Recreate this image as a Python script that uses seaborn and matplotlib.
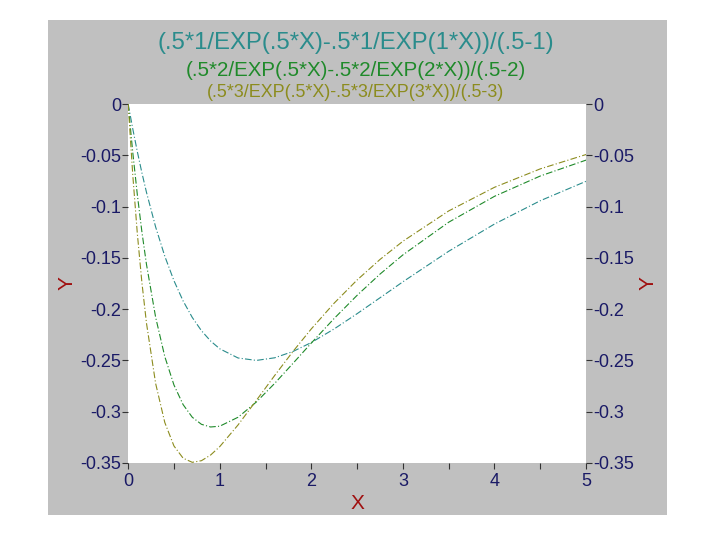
import pandas as pd
import seaborn as sns
import matplotlib.pyplot as plt
from matplotlib.patches import Rectangle
from matplotlib.ticker import MultipleLocator

# sampled curve values
x_vals = [0, 0.05, 0.1, 0.15, 0.2, 0.3, 0.4, 0.5, 0.6, 0.7, 0.8, 0.9, 1.0,
          1.2, 1.4, 1.6, 1.8, 2.0, 2.25, 2.5, 2.75, 3.0, 3.5, 4.0, 4.5, 5.0]
y_k1 = [0, -0.02408, -0.04639, -0.06703, -0.08611, -0.11989, -0.14841, -0.17227,
        -0.19201, -0.20810, -0.22099, -0.23106, -0.23865, -0.24762, -0.24999,
        -0.24743, -0.24127, -0.23254, -0.21925, -0.20442, -0.18891, -0.17334,
        -0.14357, -0.11702, -0.09429, -0.07534]
y_k2 = [0, -0.04698, -0.08833, -0.12461, -0.15635, -0.20793, -0.24627, -0.27395,
        -0.29309, -0.30539, -0.31228, -0.31489, -0.31413, -0.30539, -0.29052,
        -0.27238, -0.25283, -0.23304, -0.20903, -0.18651, -0.16583, -0.14710,
        -0.11524, -0.09000, -0.07019, -0.05469]
y_k3 = [0, -0.06876, -0.12625, -0.17407, -0.21362, -0.27248, -0.31052, -0.33340,
        -0.34531, -0.34934, -0.34776, -0.34225, -0.33404, -0.31289, -0.28895,
        -0.26466, -0.24123, -0.21924, -0.19409, -0.17157, -0.15155, -0.13381,
        -0.10424, -0.08120, -0.06324, -0.04925]

titles = ["(.5*1/EXP(.5*X)-.5*1/EXP(1*X))/(.5-1)",
          "(.5*2/EXP(.5*X)-.5*2/EXP(2*X))/(.5-2)",
          "(.5*3/EXP(.5*X)-.5*3/EXP(3*X))/(.5-3)"]
colors = ["#2a8c8c", "#1f8a2a", "#8c8c1e"]
y_ticks = [0, -0.05, -0.1, -0.15, -0.2, -0.25, -0.3, -0.35]
y_labels = ["0", "-0.05", "-0.1", "-0.15", "-0.2", "-0.25", "-0.3", "-0.35"]

sns.set_style("white")
plt.rcParams['font.family'] = ['Liberation Sans', 'DejaVu Sans']

fig = plt.figure(figsize=(7.2, 5.4), dpi=100)
fig.patch.set_facecolor("white")
fig.add_artist(Rectangle((0.0667, 0.0463), 0.8597, 0.9167, transform=fig.transFigure,
                         facecolor="#c0c0c0", edgecolor="none", zorder=-10))

ax = fig.add_axes([0.178, 0.1426, 0.636, 0.6648])
ax.set_facecolor("white")

for ys, c in zip([y_k1, y_k2, y_k3], colors):
    sns.lineplot(x=x_vals, y=ys, ax=ax, color=c, linewidth=0.8,
                 linestyle=(0, (6, 2, 1, 2)))

ax.set_xlim(0, 5)
ax.set_ylim(-0.35, 0)
for s in ax.spines.values():
    s.set_visible(False)

tick_color = "#1a1a66"
ax.set_xticks([0, 1, 2, 3, 4, 5])
ax.xaxis.set_minor_locator(MultipleLocator(0.5))
ax.set_yticks(y_ticks)
ax.set_yticklabels(y_labels)
ax.tick_params(axis="both", which="both", direction="out", length=4, width=0.8,
               color="#333333", labelcolor=tick_color, labelsize=13, pad=1,
               bottom=True, left=True)
ax.tick_params(axis="x", which="both", length=4, pad=3)

ax2 = ax.twinx()
ax2.set_ylim(-0.35, 0)
ax2.set_yticks(y_ticks)
ax2.set_yticklabels(y_labels)
ax2.tick_params(axis="y", direction="out", length=4, width=0.8, color="#333333",
                labelcolor=tick_color, labelsize=13, pad=1, right=True)
for s in ax2.spines.values():
    s.set_visible(False)

label_color = "#a01010"
ax.set_xlabel("X", color=label_color, fontsize=15, labelpad=3)
ax.set_ylabel("Y", color=label_color, fontsize=15, labelpad=3)
ax2.set_ylabel("Y", color=label_color, fontsize=15, labelpad=3, rotation=90)

fig.text(0.494, 0.920, titles[0], color=colors[0], fontsize=17.2, ha="center", va="center")
fig.text(0.494, 0.870, titles[1], color=colors[1], fontsize=14.8, ha="center", va="center")
fig.text(0.494, 0.829, titles[2], color=colors[2], fontsize=12.9, ha="center", va="center")

plt.savefig("out.png", dpi=100)
